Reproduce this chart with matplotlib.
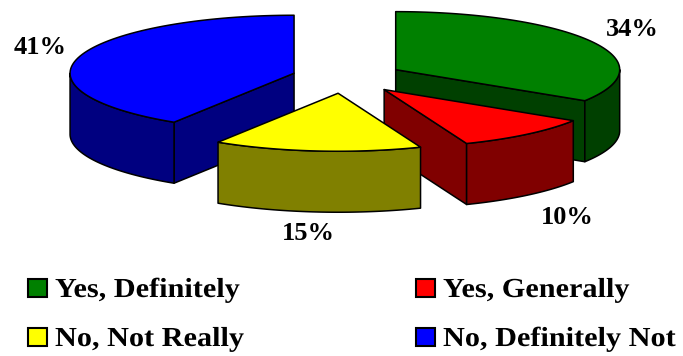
import numpy as np
import matplotlib.pyplot as plt
from matplotlib.patches import Polygon, Rectangle, PathPatch
from matplotlib.textpath import TextPath
from matplotlib.font_manager import FontProperties
from matplotlib.transforms import Affine2D

categories = ['Yes, Definitely', 'Yes, Generally', 'No, Not Really', 'No, Definitely Not']
shares = [34, 10, 15, 41]
top_colors = ['#008000', '#ff0000', '#ffff00', '#0000ff']
side_colors = ['#004000', '#800000', '#808000', '#000080']

# pie geometry (pixels)
cx, cy = 344, 77
rx, ry = 224, 58
depth = 61
explode = [59, 63, 63, 52]
label_xy = [(632, 29), (567, 218), (308, 234), (40, 48)]

fig = plt.figure(figsize=(6.83, 3.56), dpi=100)
ax = fig.add_axes([0, 0, 1, 1])
ax.set_xlim(0, 683)
ax.set_ylim(356, 0)
ax.axis('off')


def arc(x0, y0, t0, t1, dy=0, n=80):
    t = np.linspace(t0, t1, n)
    return np.column_stack([x0 + rx * np.cos(t), y0 - ry * np.sin(t) + dy])


def face(pts, color):
    ax.add_patch(Polygon(pts, closed=True, facecolor=color, edgecolor='black',
                         linewidth=1.1, joinstyle='round'))


slices = []
end = np.pi / 2
for i, v in enumerate(shares):
    start = end - v / 100 * 2 * np.pi
    mid = (start + end) / 2
    ox = cx + explode[i] * np.cos(mid)
    oy = cy - explode[i] * (ry / rx) * np.sin(mid)
    slices.append((i, start, end, mid, ox, oy))
    end = start

# back slices first
slices.sort(key=lambda s: -np.sin(s[3]))

for i, a0, a1, mid, ox, oy in slices:
    side = side_colors[i]
    # cut faces
    for a, show in ((a0, np.cos(a0) > 1e-6), (a1, np.cos(a1) < -1e-6)):
        if show:
            px, py = ox + rx * np.cos(a), oy - ry * np.sin(a)
            face([(ox, oy), (px, py), (px, py + depth), (ox, oy + depth)], side)
    # rounded wall, front half only
    w0, w1 = max(a0, -np.pi), min(a1, 0)
    if w1 > w0:
        upper = arc(ox, oy, w0, w1)
        lower = arc(ox, oy, w0, w1, dy=depth)[::-1]
        face(np.vstack([upper, lower]), side)
    # top
    face(np.vstack([[(ox, oy)], arc(ox, oy, a0, a1)]), top_colors[i])

font = dict(family='Liberation Serif', weight='bold', size=19)
for (x, y), v in zip(label_xy, shares):
    ax.text(x, y, f'{v}%', ha='center', va='center', **font)

# legend, two rows by two columns; text is drawn a little wide
fp = FontProperties(family='Liberation Serif', weight='bold')
legend_cols = [28, 416]
legend_rows = [297, 346]
for k, name in enumerate(categories):
    x = legend_cols[k % 2]
    base = legend_rows[k // 2]
    ax.add_patch(Rectangle((x, base - 18), 19, 18, facecolor=top_colors[k],
                           edgecolor='black', linewidth=1.5))
    tp = TextPath((0, 0), name, size=27.5, prop=fp)
    tr = Affine2D().scale(1.1, -1).translate(x + 27, base)
    ax.add_patch(PathPatch(tr.transform_path(tp), facecolor='black',
                           edgecolor='none'))

fig.savefig('out.png', dpi=100)
